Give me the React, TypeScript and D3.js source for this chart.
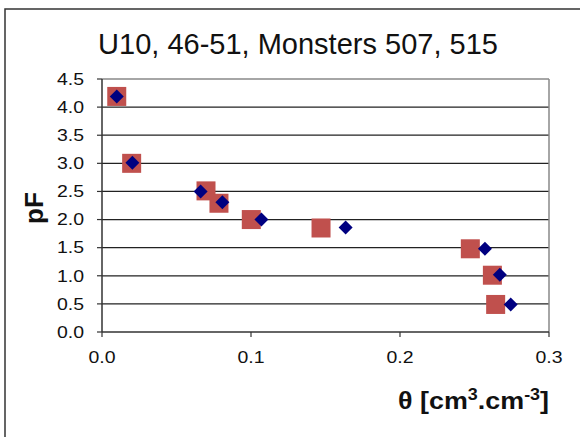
import React from "react";
import * as d3 from "d3";

const title = "U10, 46-51, Monsters 507, 515";
const xTicks = [0, 0.1, 0.2, 0.3];
const yTicks = [0, 0.5, 1.0, 1.5, 2.0, 2.5, 3.0, 3.5, 4.0, 4.5];

const blueTheta = [0.0099, 0.0204, 0.0662, 0.0808, 0.107, 0.1635, 0.257, 0.267, 0.2743];
const bluePF = [4.19, 3.01, 2.5, 2.31, 2.0, 1.86, 1.48, 1.02, 0.49];

const redTheta = [0.0099, 0.0199, 0.0698, 0.0785, 0.1002, 0.147, 0.2472, 0.262, 0.2642];
const redPF = [4.19, 3.0, 2.51, 2.29, 2.0, 1.85, 1.48, 1.01, 0.49];

const W = 580;
const H = 437;
const L = 102, R = 549, T = 79, B = 332;

export default function App() {
  const x = d3.scaleLinear().domain([0, 0.3]).range([L, R]);
  const y = d3.scaleLinear().domain([0, 4.5]).range([B, T]);
  const font = "'Liberation Sans', Arial, sans-serif";
  const sq = 19;
  const dm = 7;
  const sx = 1.18;
  const diamond = (cx: number, cy: number) =>
    `M${cx},${cy - dm} L${cx + dm},${cy} L${cx},${cy + dm} L${cx - dm},${cy} Z`;

  return (
    <svg width={W} height={H} style={{ position: "absolute", left: 0, top: 0, background: "#fff" }} fontFamily={font}>
      <rect x={5} y={9} width={W} height={H} fill="#fff" stroke="#333" strokeWidth={1.5} />
      <text x={298} y={54} textAnchor="middle" fontSize={29} fill="#111">{title}</text>

      {yTicks.filter(v => v > 0 && v < 4.5).map(v => (
        <line key={"g" + v} x1={L} x2={R} y1={y(v)} y2={y(v)} stroke="#222" strokeWidth={1.2} />
      ))}
      <line x1={L} x2={R} y1={T} y2={T} stroke="#888" strokeWidth={1.5} />
      <line x1={R} x2={R} y1={T} y2={B} stroke="#888" strokeWidth={1.5} />
      <line x1={L} x2={L} y1={T} y2={B} stroke="#333" strokeWidth={1.5} />
      <line x1={L} x2={R} y1={B} y2={B} stroke="#333" strokeWidth={1.5} />
      {yTicks.map(v => (
        <g key={"y" + v}>
          <line x1={L - 5} x2={L} y1={y(v)} y2={y(v)} stroke="#333" strokeWidth={1.2} />
          <text transform={`translate(84,${y(v)}) scale(${sx},1)`} dy="0.35em" textAnchor="end" fontSize={16.5} fill="#111">{v.toFixed(1)}</text>
        </g>
      ))}
      {xTicks.map(v => (
        <g key={"x" + v}>
          <line x1={x(v)} x2={x(v)} y1={B} y2={B + 5} stroke="#333" strokeWidth={1.2} />
          <text transform={`translate(${x(v)},357) scale(${sx},1)`} dy="0.35em" textAnchor="middle" fontSize={16.5} fill="#111">{v.toFixed(1)}</text>
        </g>
      ))}

      <text transform={`translate(34,208) rotate(-90)`} dy="0.35em" textAnchor="middle" fontSize={26} fontWeight="bold" fill="#111">pF</text>
      <text transform={`translate(549,409) scale(1.12,1)`} textAnchor="end" fontSize={24} fontWeight="bold" fill="#111">
        θ [cm<tspan dy={-9} fontSize={16}>3</tspan><tspan dy={9}>.cm</tspan><tspan dy={-9} fontSize={16}>-3</tspan><tspan dy={9}>]</tspan>
      </text>

      {redTheta.map((t, i) => (
        <rect key={"r" + i} x={x(t) - sq / 2} y={y(redPF[i]) - sq / 2} width={sq} height={sq} fill="#C0504D" />
      ))}
      {blueTheta.map((t, i) => (
        <path key={"b" + i} d={diamond(x(t), y(bluePF[i]))} fill="#000080" />
      ))}
    </svg>
  );
}
